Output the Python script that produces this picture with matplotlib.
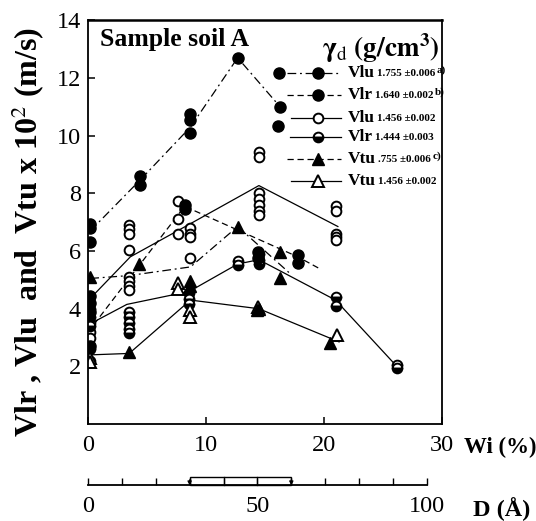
import numpy as np
import matplotlib
matplotlib.use('Agg')
import matplotlib.pyplot as plt
from matplotlib.patches import Rectangle

plt.rcParams['font.family'] = ['Liberation Serif', 'DejaVu Serif']
plt.rcParams['mathtext.fontset'] = 'stix'

# Vlu 1.755 (filled circle, dash-dot)
l1_x = [0.2, 4.4, 8.7, 12.7, 16.3]
l1_y = [6.7, 8.45, 10.3, 12.7, 11.0]
p1_x = [0.2, 0.2, 0.2, 4.4, 4.4, 8.7, 8.7, 8.7, 12.7, 16.3, 16.1]
p1_y = [6.95, 6.8, 6.3, 8.6, 8.3, 10.75, 10.55, 10.1, 12.7, 11.0, 10.35]

# Vlr 1.640 (filled circle, dashed)
l2_x = [0.5, 8.2, 17.8, 19.6]
l2_y = [3.45, 7.55, 5.8, 5.4]
p2_x = [0.2, 0.2, 0.2, 0.2, 8.2, 8.2, 14.4, 14.4, 17.8, 17.8]
p2_y = [4.45, 4.2, 3.9, 2.7, 7.6, 7.45, 5.95, 5.75, 5.85, 5.6]

# Vlu 1.456 (open circle, solid)
l3_x = [0.3, 3.6, 8.7, 14.5, 21.2]
l3_y = [4.4, 5.8, 6.95, 8.27, 6.85]
p3_x = [0.2, 0.2, 0.2, 0.2,
        3.5, 3.5, 3.5, 3.5, 3.5, 3.5, 3.5, 3.5,
        7.6, 7.6, 7.6, 8.7, 8.7, 8.7, 8.7,
        14.5, 14.5, 14.5, 14.5, 14.5, 14.5, 14.5,
        21.0, 21.0, 21.0, 21.0, 21.0]
p3_y = [3.5, 3.2, 3.0, 2.2,
        6.9, 6.75, 6.6, 6.05, 5.1, 4.95, 4.8, 4.65,
        7.75, 7.1, 6.6, 6.8, 6.6, 6.5, 5.75,
        9.45, 9.25, 8.0, 7.8, 7.6, 7.4, 7.25,
        7.55, 7.4, 6.6, 6.5, 6.4]

# Vlr 1.444 (half filled circle, solid)
l4_x = [0.3, 3.3, 8.6, 12.7, 14.5, 21.0, 26.2]
l4_y = [3.5, 4.15, 4.6, 5.55, 5.7, 4.3, 2.0]
p4_x = [0.2, 0.2, 0.2, 0.2, 3.5, 3.5, 3.5, 3.5, 3.5, 8.6, 8.6, 8.6,
        12.7, 12.7, 14.5, 14.5, 14.5, 21.0, 21.0, 26.2, 26.2]
p4_y = [4.0, 3.7, 3.4, 2.6, 3.9, 3.7, 3.5, 3.3, 3.15, 4.55, 4.35, 4.15,
        5.65, 5.5, 5.9, 5.7, 5.55, 4.4, 4.1, 2.05, 1.95]

# Vtu .755 (filled triangle, dash-dot)
l5_x = [0.2, 3.5, 8.7, 12.7, 17.2]
l5_y = [5.05, 5.15, 5.45, 6.85, 5.2]
p5_x = [0.2, 4.3, 8.7, 8.7, 12.7, 16.3, 16.3, 3.5, 14.5, 14.3, 20.5]
p5_y = [5.1, 5.55, 4.95, 4.8, 6.85, 5.95, 5.05, 2.5, 4.0, 3.95, 2.8]

# Vtu 1.456 (open triangle, solid)
l6_x = [0.2, 3.5, 8.7, 14.5, 21.3]
l6_y = [2.4, 2.45, 4.3, 4.0, 2.85]
p6_x = [0.2, 0.2, 7.6, 7.6, 8.7, 8.7, 21.1, 14.4]
p6_y = [2.3, 2.15, 4.9, 4.7, 3.95, 3.7, 3.1, 4.05]

leg_names = ['Vlu', 'Vlr', 'Vlu', 'Vlr', 'Vtu', 'Vtu']
leg_vals = ['1.755 \u00b10.006', '1.640 \u00b10.002', '1.456 \u00b10.002',
            '1.444 \u00b10.003', '.755 \u00b10.006', '1.456 \u00b10.002']
leg_notes = ['a)', 'b)', '', '', 'c)', '']

d_ticks = [0, 50, 100]

fig = plt.figure(figsize=(5.36, 5.21), dpi=100)
ax = fig.add_axes([0.164, 0.186, 0.660, 0.775])

dashdot = (0, (7, 3, 1.5, 3))
dashed = (0, (5, 3))
lw = 0.9
fc_circ = dict(marker='o', color='k', ms=8, ls='none')
op_circ = dict(marker='o', mfc='white', mec='k', mew=1.4, ms=7, ls='none')
hf_circ = dict(marker='o', mfc='k', mfcalt='white', fillstyle='bottom', mec='k',
               mew=1.4, ms=7, ls='none')
fc_tri = dict(marker='^', color='k', ms=8, ls='none')
op_tri = dict(marker='^', mfc='white', mec='k', mew=1.4, ms=8, ls='none')

ax.plot(l1_x, l1_y, color='k', lw=lw, ls=dashdot)
ax.plot(l2_x, l2_y, color='k', lw=lw, ls=dashed)
ax.plot(l3_x, l3_y, color='k', lw=lw)
ax.plot(l4_x, l4_y, color='k', lw=lw)
ax.plot(l5_x, l5_y, color='k', lw=lw, ls=dashdot)
ax.plot(l6_x, l6_y, color='k', lw=lw)

ax.plot(p3_x, p3_y, **op_circ)
ax.plot(p4_x, p4_y, **hf_circ)
ax.plot(p6_x, p6_y, **op_tri)
ax.plot(p1_x, p1_y, **fc_circ)
ax.plot(p2_x, p2_y, **fc_circ)
ax.plot(p5_x, p5_y, **fc_tri)

ax.set_xlim(0, 30)
ax.set_ylim(0, 14)
ax.set_xticks([0, 10, 20, 30])
ax.set_yticks([2, 4, 6, 8, 10, 12, 14])
ax.tick_params(direction='in', length=5, width=1.1, labelsize=17.5, pad=5)
ax.tick_params(axis='x', pad=8)
for s in ax.spines.values():
    s.set_linewidth(1.3)
ax.spines['top'].set_linewidth(1.8)

fig.text(28 / 536, 1 - 232 / 521, 'Vlr , Vlu  and  Vtu x 10$^{2}$ (m/s)',
         fontsize=23, fontweight='bold', rotation=90, ha='center', va='center')
ax.text(1.0, 13.35, 'Sample soil A', fontsize=18.5, fontweight='bold',
        va='center', ha='left')
ax.text(29.8, 13.05, r'$\mathbf{\gamma}_{\rm d}$ $\mathbf{(g/cm^3)}$', fontsize=19.5,
        va='center', ha='right')
ax.text(31.9, -0.8, 'Wi (%)', fontsize=16.5, fontweight='bold', va='center',
        ha='left', clip_on=False)

# legend drawn by hand
leg_y = [12.18, 11.42, 10.62, 9.97, 9.2, 8.44]
styles = [(dashdot, fc_circ), (dashed, fc_circ), ('-', op_circ),
          ('-', hf_circ), (dashed, fc_tri), ('-', op_tri)]
starts = [16.9, 16.9, 17.2, 17.1, 16.9, 17.2]
for i, (ls, mk) in enumerate(styles):
    y = leg_y[i]
    ax.plot([starts[i], 21.5], [y, y], color='k', lw=lw, ls=ls)
    ax.plot([19.5], [y], **mk)
    t = ax.text(22.0, y, leg_names[i], fontsize=12.5, fontweight='bold',
                va='center', ha='left')
    t2 = ax.annotate(leg_vals[i], xy=(1, 0.45), xycoords=t, xytext=(2, 0),
                     textcoords='offset points', fontsize=8, fontweight='bold',
                     va='center', ha='left')
    if leg_notes[i]:
        ax.annotate(leg_notes[i], xy=(1, 0.9), xycoords=t2, xytext=(1, 0),
                    textcoords='offset points', fontsize=8, fontweight='bold',
                    va='center', ha='left', annotation_clip=False)
ax.plot([16.2], [leg_y[0]], **fc_circ)

# secondary D scale
ax2 = fig.add_axes([0.164, 0.069, 0.6325, 0.0154])
ax2.set_xlim(0, 100)
ax2.set_ylim(0, 1)
for k in ['top', 'left', 'right']:
    ax2.spines[k].set_visible(False)
ax2.spines['bottom'].set_linewidth(1.3)
ax2.set_yticks([])
ax2.set_xticks(d_ticks)
ax2.set_xticks(np.arange(0, 101, 10), minor=True)
ax2.tick_params(axis='x', which='both', direction='in', length=5, width=1.0,
                labelsize=17.5, pad=8)
ax2.add_patch(Rectangle((30, 0), 30, 1, fill=False, lw=1.0, clip_on=False))
for xv in [40, 50]:
    ax2.plot([xv, xv], [0, 1], color='k', lw=0.9, clip_on=False)
for xv in [30, 60]:
    ax2.annotate('', xy=(xv, -0.4), xytext=(xv, 1.0),
                 arrowprops=dict(arrowstyle='-|>', color='k', lw=0.8,
                                 mutation_scale=6), annotation_clip=False)
ax2.text(113.5, -3.0, 'D (\u00c5)', fontsize=17.5, fontweight='bold', va='center',
         ha='left', clip_on=False)

fig.savefig('out.png', dpi=100)
